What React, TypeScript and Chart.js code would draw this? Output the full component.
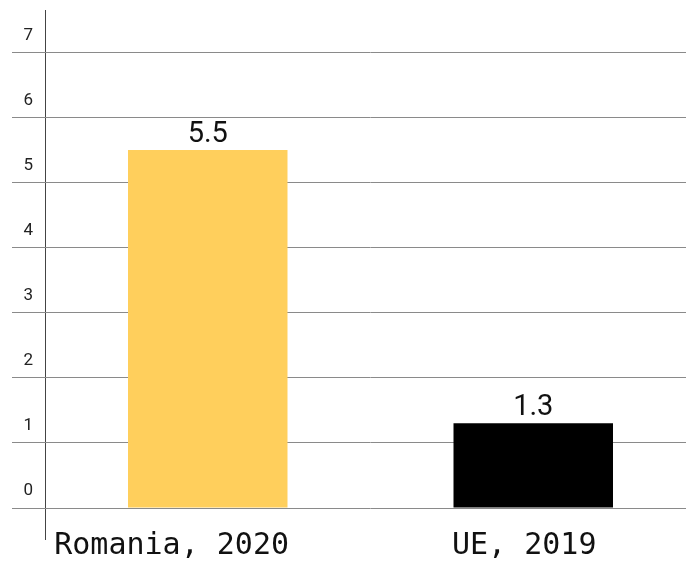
import React, { useEffect, useRef } from "react";
import { Chart, registerables } from "chart.js";

Chart.register(...registerables);

const categories = ["Romania, 2020", "UE, 2019"];
const values = [5.5, 1.3];
const barColors = ["#FFCF5C", "#000000"];
const valueLabels = ["5.5", "1.3"];
const labelPadding = [4, 1];
const yMax = 7.65;

const valueLabelPlugin = {
  id: "valueLabels",
  afterDatasetsDraw(chart: any) {
    const ctx = chart.ctx;
    const meta = chart.getDatasetMeta(0);
    ctx.save();
    ctx.font = "29px Roboto";
    ctx.fillStyle = "#111111";
    ctx.textAlign = "center";
    ctx.textBaseline = "alphabetic";
    meta.data.forEach((bar: any, i: number) => {
      ctx.fillText(valueLabels[i], bar.x, bar.y - 8);
    });
    ctx.restore();
  },
};

export default function App() {
  const ref = useRef<HTMLCanvasElement>(null);
  useEffect(() => {
    if (!ref.current) return;
    const chart = new Chart(ref.current, {
      type: "bar",
      data: {
        labels: categories,
        datasets: [
          {
            data: values,
            backgroundColor: barColors,
            barPercentage: 0.49,
            categoryPercentage: 1,
          },
        ],
      },
      options: {
        animation: false,
        responsive: false,
        devicePixelRatio: 1,
        layout: { padding: { top: 10, left: 0, right: 0, bottom: 0 } },
        plugins: { legend: { display: false }, tooltip: { enabled: false } },
        scales: {
          x: {
            border: { display: false },
            grid: {
              offset: true,
              drawOnChartArea: true,
              drawTicks: true,
              tickLength: 32,
              color: (c: any) => (c.index === 0 ? "#444444" : "rgba(0,0,0,0)"),
              lineWidth: 1,
            },
            ticks: {
              font: { family: "'DejaVu Sans Mono', monospace", size: 30 },
              color: "#111111",
              padding: -12,
              maxRotation: 0,
              autoSkip: false,
              callback: (_v: any, i: number) => categories[i] + " ".repeat(labelPadding[i]),
            },
            afterFit: (s: any) => {
              s.height = 54;
            },
          },
          y: {
            min: 0,
            max: yMax,
            border: { display: false },
            grid: {
              color: "#8a8a8a",
              lineWidth: 1,
              drawTicks: true,
              tickLength: 33,
            },
            ticks: {
              stepSize: 1,
              font: { family: "Roboto", size: 17 },
              color: "#222222",
              padding: -21,
              labelOffset: -17,
            },
            afterBuildTicks: (s: any) => {
              s.ticks = s.ticks.filter((t: any) => Number.isInteger(t.value));
            },
            afterFit: (s: any) => {
              s.width = 45;
            },
          },
        },
      },
      plugins: [valueLabelPlugin],
    });
    return () => chart.destroy();
  }, []);
  return (
    <div
      style={{
        position: "fixed",
        left: 0,
        top: 0,
        width: 686,
        height: 562,
        overflow: "hidden",
        background: "#ffffff",
      }}
    >
      <canvas ref={ref} width={696} height={562} style={{ display: "block" }} />
    </div>
  );
}
